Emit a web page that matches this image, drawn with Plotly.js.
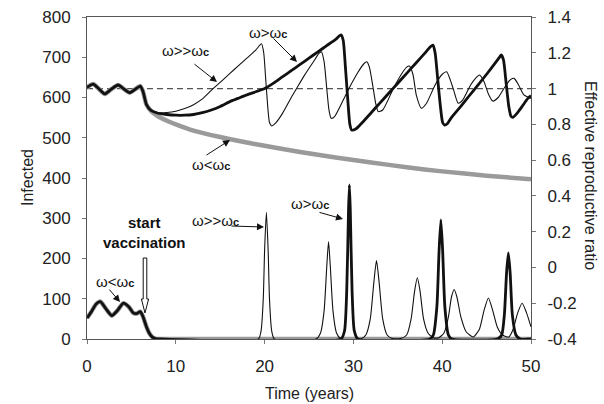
<!DOCTYPE html>
<html>
<head>
<meta charset="utf-8">
<script src="https://cdn.plot.ly/plotly-3.0.1.min.js"></script>
<style>html,body{margin:0;padding:0;background:#fff;}#chart{width:604px;height:404px;}</style>
</head>
<body>
<div id="chart"></div>
<script>
// ---------- Data ----------
// Shared pre-vaccination part (effective reproductive ratio, right axis)
const tPreR = [0, 0.7, 1.3, 2.0, 2.7, 3.5, 4.1, 4.8, 5.4, 6.0, 6.3];
const rPre  = [1.007, 1.025, 1.0, 0.970, 0.995, 1.020, 1.0, 0.977, 0.995, 1.014, 0.985];

// omega >> omega_c (thin black), ratio after vaccination
const tThinR = [6.7, 7.2, 8.0, 9, 10, 11, 12, 13, 14.2, 15, 16.1, 17, 18, 19, 19.65, 19.9, 20.1, 20.35, 20.55, 20.8, 21.2, 22, 23, 23.6, 24.5, 25.5, 26.1, 26.4, 26.7, 27.0, 27.25, 27.5, 27.9, 28.8, 29.6, 30.5, 31.2, 31.5, 31.8, 32.2, 32.5, 32.8, 33.3, 34.5, 35.4, 36.0, 36.3, 36.7, 37.1, 37.65, 38.2, 39.2, 40.0, 40.5, 40.9, 41.3, 41.8, 42.3, 43.2, 43.8, 44.2, 44.7, 45.2, 45.7, 46.3, 47.2, 47.7, 48.1, 48.6, 49.2, 50];
const rThin  = [0.91, 0.878, 0.866, 0.866, 0.873, 0.888, 0.91, 0.942, 1.0, 1.035, 1.085, 1.125, 1.17, 1.215, 1.25, 1.2, 1.07, 0.9, 0.81, 0.791, 0.805, 0.86, 0.95, 1.0, 1.075, 1.15, 1.195, 1.206, 1.15, 1.0, 0.88, 0.834, 0.845, 0.93, 1.01, 1.09, 1.14, 1.15, 1.12, 1.01, 0.92, 0.871, 0.88, 1.0, 1.08, 1.12, 1.126, 1.08, 0.96, 0.89, 0.915, 1.02, 1.08, 1.094, 1.05, 0.99, 0.918, 0.935, 1.02, 1.06, 1.076, 1.04, 0.97, 0.93, 0.95, 1.02, 1.05, 1.057, 1.02, 0.965, 0.945];

// omega > omega_c (thick black), ratio after vaccination
const tThickR = [6.7, 7.2, 8, 9, 10, 11, 12, 13, 14, 15, 16.1, 17, 18, 19, 20, 21, 22, 23, 24, 25, 26, 27, 28, 28.6, 28.85, 29.1, 29.35, 29.6, 29.8, 30.3, 31, 32, 33, 34, 35, 36, 37, 38, 38.7, 38.96, 39.2, 39.5, 39.8, 40.05, 40.27, 40.6, 41, 42, 43, 44, 45, 46, 46.5, 46.65, 46.9, 47.2, 47.5, 47.75, 47.95, 48.4, 49, 49.65, 50];
const rThick  = [0.91, 0.878, 0.862, 0.855, 0.851, 0.851, 0.855, 0.865, 0.88, 0.9, 0.927, 0.945, 0.965, 0.982, 1.0, 1.03, 1.065, 1.1, 1.135, 1.17, 1.205, 1.24, 1.275, 1.30, 1.27, 1.12, 0.95, 0.8, 0.768, 0.775, 0.81, 0.865, 0.92, 0.975, 1.03, 1.085, 1.14, 1.195, 1.235, 1.243, 1.2, 1.05, 0.9, 0.81, 0.796, 0.805, 0.835, 0.895, 0.957, 1.018, 1.08, 1.145, 1.178, 1.188, 1.16, 1.03, 0.9, 0.845, 0.839, 0.86, 0.9, 0.945, 0.96];

// omega < omega_c (gray), ratio after vaccination
const tGrayR = [6.7, 7.2, 8, 9, 10, 12, 14, 16, 18, 20, 24, 28, 32, 36, 40, 45, 50];
const rGray  = [0.91, 0.875, 0.845, 0.82, 0.80, 0.765, 0.74, 0.718, 0.698, 0.68, 0.645, 0.615, 0.587, 0.56, 0.537, 0.513, 0.493];

// Reference line R = 1
const tRef = [0, 50];
const rRef = [1, 1];

// Shared pre-vaccination part (infected, left axis)
const tPreI = [0, 0.5, 1.0, 1.5, 2.1, 2.8, 3.4, 4.1, 4.7, 5.2, 5.6, 6.0, 6.3, 6.7, 7.0, 7.3, 7.7, 8.2];
const iPre  = [52, 68, 86, 93, 76, 58, 70, 89, 80, 65, 63, 68, 56, 30, 15, 6, 1, 0];

// omega >> omega_c infected after vaccination
const tThinI = [19.3, 19.6, 19.85, 20.0, 20.2, 20.4, 20.55, 20.8, 21.1, 25.8, 26.3, 26.7, 27.0, 27.2, 27.4, 27.7, 28.1, 28.6, 30.8, 31.4, 31.9, 32.3, 32.6, 32.9, 33.3, 33.8, 34.4, 35.3, 36.0, 36.5, 36.9, 37.2, 37.5, 37.9, 38.4, 39.0, 39.6, 40.2, 40.7, 41.05, 41.35, 41.65, 42.1, 42.7, 43.5, 44.2, 44.7, 45.2, 45.7, 46.2, 46.8, 47.5, 48.0, 48.5, 49.0, 49.5, 50];
const iThin  = [0, 20, 100, 220, 315, 220, 100, 20, 0, 0, 15, 70, 180, 242, 180, 70, 15, 0, 0, 10, 50, 140, 195, 140, 50, 10, 1, 1, 10, 50, 120, 152, 120, 50, 15, 3, 3, 15, 55, 105, 123, 105, 55, 18, 5, 25, 70, 102, 70, 30, 10, 5, 25, 65, 89, 65, 30];

// omega > omega_c infected after vaccination
const tThickI = [28.6, 29.0, 29.25, 29.45, 29.55, 29.65, 29.85, 30.1, 30.5, 38.6, 39.0, 39.4, 39.65, 39.85, 40.05, 40.3, 40.7, 41.1, 46.2, 46.7, 47.0, 47.25, 47.45, 47.65, 47.9, 48.3, 48.8, 50];
const iThick  = [0, 20, 120, 320, 383, 320, 120, 20, 0, 0, 10, 80, 220, 296, 220, 80, 10, 0, 0, 10, 60, 165, 214, 165, 60, 10, 0, 0];

// omega < omega_c infected after vaccination
const tGrayI = [8.2, 50];
const iGray  = [0, 0];

// Tick labels
const y2Vals = [-0.4, -0.2, 0, 0.2, 0.4, 0.6, 0.8, 1, 1.2, 1.4];
const y2Text = ['-0.4', '-0.2', '0', '0.2', '0.4', '0.6', '0.8', '1', '1.2', '1.4'];

// ---------- Styles ----------
const BLACK = '#111111', GRAY = '#9a9a9a';
const thin = {color: BLACK, width: 1.1, shape: 'spline', smoothing: 0.6};
const thick = {color: BLACK, width: 2.8, shape: 'spline', smoothing: 0.6};
const gray = {color: GRAY, width: 4.5, shape: 'spline', smoothing: 0.6};

function tr(x, y, line, yaxis) {
  return {x: x, y: y, mode: 'lines', line: line, yaxis: yaxis, hoverinfo: 'skip', showlegend: false};
}

const data = [
  tr(tRef, rRef, {color: '#555', width: 1.2, dash: '6px,4px'}, 'y2'),
  tr(tPreR.concat(tGrayR), rPre.concat(rGray), gray, 'y2'),
  tr(tPreR.concat(tThinR), rPre.concat(rThin), thin, 'y2'),
  tr(tPreR.concat(tThickR), rPre.concat(rThick), thick, 'y2'),
  tr(tPreI.concat(tGrayI), iPre.concat(iGray), gray, 'y'),
  tr(tPreI.concat(tThinI), iPre.concat(iThin), thin, 'y'),
  tr(tPreI.concat(tThickI), iPre.concat(iThick), thick, 'y')
];

// pixel -> paper helpers (plot area 87..531 x 17..339)
const L = 87, R = 531, T = 17, B = 339;
const px = x => (x - L) / (R - L);
const py = y => (B - y) / (B - T);

const FONT = 'Liberation Sans, Arial, sans-serif';
const w = (s) => 'ω' + s + 'ω<b><span style="font-size:11px">c</span></b>';

function txt(x, y, text, extra) {
  return Object.assign({xref: 'paper', yref: 'paper', x: px(x), y: py(y), text: text, showarrow: false,
    xanchor: 'center', yanchor: 'middle', font: {family: FONT, size: 15, color: BLACK}}, extra || {});
}
function arr(x0, y0, x1, y1) {
  return {xref: 'paper', yref: 'paper', x: px(x1), y: py(y1), ax: x0 - x1, ay: y0 - y1, text: '',
    showarrow: true, arrowhead: 2, arrowsize: 1.4, arrowwidth: 1, arrowcolor: BLACK, standoff: 0, startstandoff: 0};
}

const annotations = [
  txt(185, 50, w('>>')), arr(193, 63, 217, 82),
  txt(268, 32, w('>')), arr(272, 37, 297, 62),
  txt(211, 164, w('<')), arr(205, 156, 230, 140),
  txt(144, 232, '<b>start</b><br><b>vaccination</b>', {font: {family: FONT, size: 15, color: BLACK}}),
  txt(115, 281, w('<')), arr(108, 288, 120, 302),
  txt(215, 220, w('>>')), arr(230, 226, 264, 227),
  txt(310, 203, w('>')), arr(318, 212, 343, 219),
  txt(27, 178, 'Infected', {textangle: -90, font: {family: FONT, size: 16, color: '#222'}}),
  txt(591, 175, 'Effective reproductive ratio', {textangle: 90, font: {family: FONT, size: 16, color: '#222'}}),
  txt(309, 393, 'Time (years)', {font: {family: FONT, size: 16, color: '#222'}})
];

// hollow block arrow ("start vaccination")
const ax = 145, sw = 1.8, hw = 3.6, yTop = 258, yHead = 299, yTip = 313;
const pts = [[ax - sw, yTop], [ax + sw, yTop], [ax + sw, yHead], [ax + hw, yHead], [ax, yTip], [ax - hw, yHead], [ax - sw, yHead]];
const path = 'M ' + pts.map(p => px(p[0]).toFixed(5) + ',' + py(p[1]).toFixed(5)).join(' L ') + ' Z';
const shapes = [{type: 'path', xref: 'paper', yref: 'paper', path: path, fillcolor: '#fff', line: {color: BLACK, width: 1}}];

const axisCommon = {showgrid: false, zeroline: false, showline: true, linecolor: '#555', linewidth: 1,
  ticks: 'outside', ticklen: 4, tickcolor: '#777', tickfont: {family: FONT, size: 17, color: '#222'}};

const layout = {
  width: 604, height: 404,
  margin: {l: L, r: 604 - R, t: T, b: 404 - B, pad: 0},
  paper_bgcolor: '#fff', plot_bgcolor: '#fff',
  showlegend: false,
  xaxis: Object.assign({}, axisCommon, {range: [0, 50], tickvals: [0, 10, 20, 30, 40, 50], mirror: true, ticklabelstandoff: 8}),
  yaxis: Object.assign({}, axisCommon, {range: [0, 800], tickvals: [0, 100, 200, 300, 400, 500, 600, 700, 800], ticklabelstandoff: 8}),
  yaxis2: Object.assign({}, axisCommon, {range: [-0.4, 1.4], tickvals: y2Vals, ticktext: y2Text, overlaying: 'y', side: 'right', ticklabelstandoff: 8}),
  annotations: annotations,
  shapes: shapes
};

Plotly.newPlot('chart', data, layout, {displayModeBar: false, staticPlot: true});
</script>
</body>
</html>
